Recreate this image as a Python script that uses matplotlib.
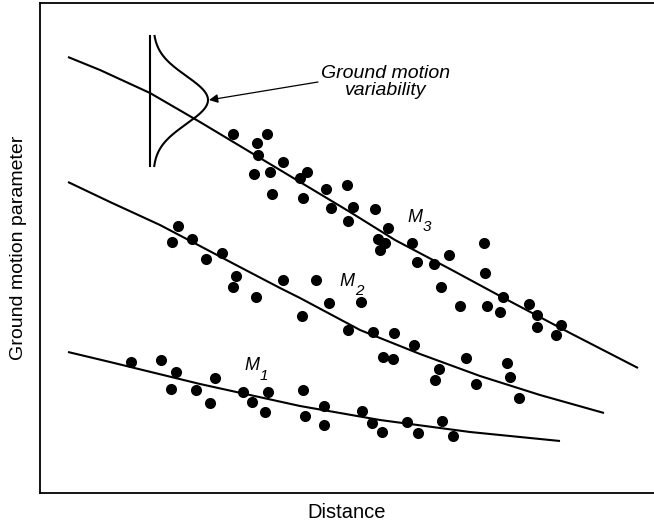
import numpy as np
import matplotlib.pyplot as plt

plt.rcParams['font.family'] = ['Liberation Sans', 'DejaVu Sans']

# scatter data for the three magnitudes (distance, ground motion parameter)
m3_x = [193, 227, 217, 218, 243, 214, 230, 267, 260, 232, 263, 286, 307, 291, 313, 308, 335, 348, 338, 345,
        340, 372, 377, 394, 409, 444, 445, 401, 420, 447, 460, 463, 489, 497, 497, 521, 516]
m3_y = [359, 359, 350, 338, 331, 319, 321, 321, 315, 299, 295, 304, 308, 285, 286, 272, 284, 265, 254, 250,
        243, 250, 231, 229, 238, 250, 220, 206, 187, 187, 181, 196, 189, 178, 166, 168, 158]

m2_x = [138, 132, 152, 166, 182, 196, 193, 216, 243, 276, 289, 321, 262, 308, 333, 354, 374, 343, 353, 399,
        395, 426, 436, 467, 470, 479]
m2_y = [267, 251, 254, 234, 240, 217, 206, 196, 213, 213, 190, 191, 177, 163, 161, 160, 148, 136, 134, 124,
        113, 135, 109, 130, 116, 95]

m1_x = [91, 121, 136, 131, 156, 175, 170, 203, 212, 228, 225, 263, 265, 284, 284, 322, 332, 342, 367, 378,
        402, 413]
m1_y = [131, 133, 121, 104, 103, 115, 90, 101, 91, 101, 81, 103, 77, 87, 68, 82, 70, 61, 71, 60, 72, 57]

# attenuation curves
c3_x = [28, 60, 110, 160, 210, 260, 310, 355, 410, 460, 530, 598]
c3_y = [436, 423, 400, 371, 341, 311, 281, 253, 224, 197, 160, 125]
c2_x = [28, 70, 120, 160, 196, 240, 260, 320, 380, 440, 500, 564]
c2_y = [311, 291, 268, 247, 228, 205, 195, 163, 139, 117, 98, 80]
c1_x = [28, 70, 160, 260, 340, 430, 520]
c1_y = [141, 131, 109, 87, 73, 61, 52]

# sketch of the normal distribution around the M3 curve
gauss_base = 113
gauss_center = 393
gauss_sigma = 24
gauss_height = 55
gauss_lo, gauss_hi = 327, 457

fig = plt.figure(figsize=(6.54, 5.25), dpi=100)
ax = fig.add_axes([40 / 654, 32 / 525, 614 / 654, 490 / 525])
ax.set_xlim(0, 614)
ax.set_ylim(0, 490)

for cx, cy in [(c3_x, c3_y), (c2_x, c2_y), (c1_x, c1_y)]:
    ax.plot(cx, cy, color='black', lw=1.5, solid_capstyle='butt')

for sx, sy in [(m3_x, m3_y), (m2_x, m2_y), (m1_x, m1_y)]:
    ax.plot(sx, sy, 'o', color='black', ms=8, mec='none')

gy = np.linspace(gauss_lo, gauss_hi, 200)
gx = gauss_base + gauss_height * np.exp(-(gy - gauss_center) ** 2 / (2 * gauss_sigma ** 2))
ax.plot(gx, gy, color='black', lw=1.5)
ax.plot([gauss_base - 3, gauss_base - 3], [gauss_lo, gauss_hi], color='black', lw=1.5)

ax.annotate('', xy=(gauss_base + gauss_height + 1, gauss_center), xytext=(278, 411),
            arrowprops=dict(arrowstyle='-|>', color='black', lw=0.9, mutation_scale=13,
                            shrinkA=0, shrinkB=0))
ax.text(346, 411, 'Ground motion\nvariability', style='italic', fontsize=14,
        ha='center', va='center', linespacing=1.0)

for mx, my, num in [(375, 276, '3'), (307, 212, '2'), (212, 127, '1')]:
    ax.text(mx, my, 'M', style='italic', fontsize=13, ha='center', va='center')
    ax.text(mx + 12, my - 10, num, style='italic', fontsize=11, ha='center', va='center')

ax.set_xticks([])
ax.set_yticks([])
ax.spines['right'].set_visible(False)
for s in ['left', 'bottom', 'top']:
    ax.spines[s].set_linewidth(1.3)
ax.set_xlabel('Distance', fontsize=14.5, labelpad=7)
ax.set_ylabel('Ground motion parameter', fontsize=14, labelpad=9)

fig.savefig('out.png', dpi=100)
